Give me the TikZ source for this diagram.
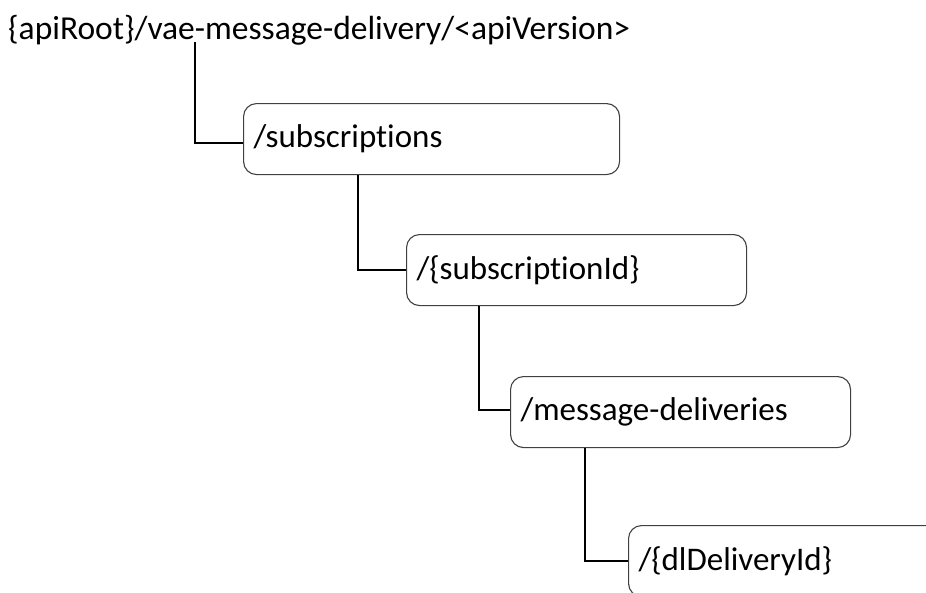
\documentclass[tikz,border=0pt]{standalone}
\usepackage{fontspec}
\setmainfont{Carlito}[Ligatures=NoCommon]
\usetikzlibrary{positioning}

\begin{document}
\begin{tikzpicture}[x=1pt,y=-1pt,
      resbox/.style={draw=black!75,line width=1.1pt,rounded corners=13pt,
        anchor=north west,inner xsep=10pt,inner ysep=0pt,align=left,
        minimum height=71pt,text width=#1,font=\fontsize{33}{36}\selectfont},
      link/.style={line width=2.4pt}]
      
      \clip (0,0) rectangle (926,592);
      
      %root
      \node[anchor=base west,inner sep=0pt,font=\fontsize{33.5}{36}\selectfont] (root) at (8,39)
      {\{apiRoot\}/vae-message-delivery/<apiVersion>};
      \coordinate (rootdrop) at (195,42);
      
      %resources
      \node[resbox=356pt] (subs) at (243,103) {/subscriptions};
      \node[resbox=320pt] (subid) at (406,234) {/\{subscriptionId\}};
      \node[resbox=320pt] (msgdel) at (510,376) {/message-deliveries};
      \node[resbox=320pt] (dlid) at (628,525) {/\{dlDeliveryId\}};
      
      %links
      \draw[link] (rootdrop) |- ([yshift=-4pt]subs.west);
      \draw[link] ([xshift=115pt]subs.south west) |- (subid.west);
      \draw[link] ([xshift=73pt]subid.south west) |- ([yshift=2pt]msgdel.west);
      \draw[link] ([xshift=75pt]msgdel.south west) |- (dlid.west);
      
\end{tikzpicture}
\end{document}
